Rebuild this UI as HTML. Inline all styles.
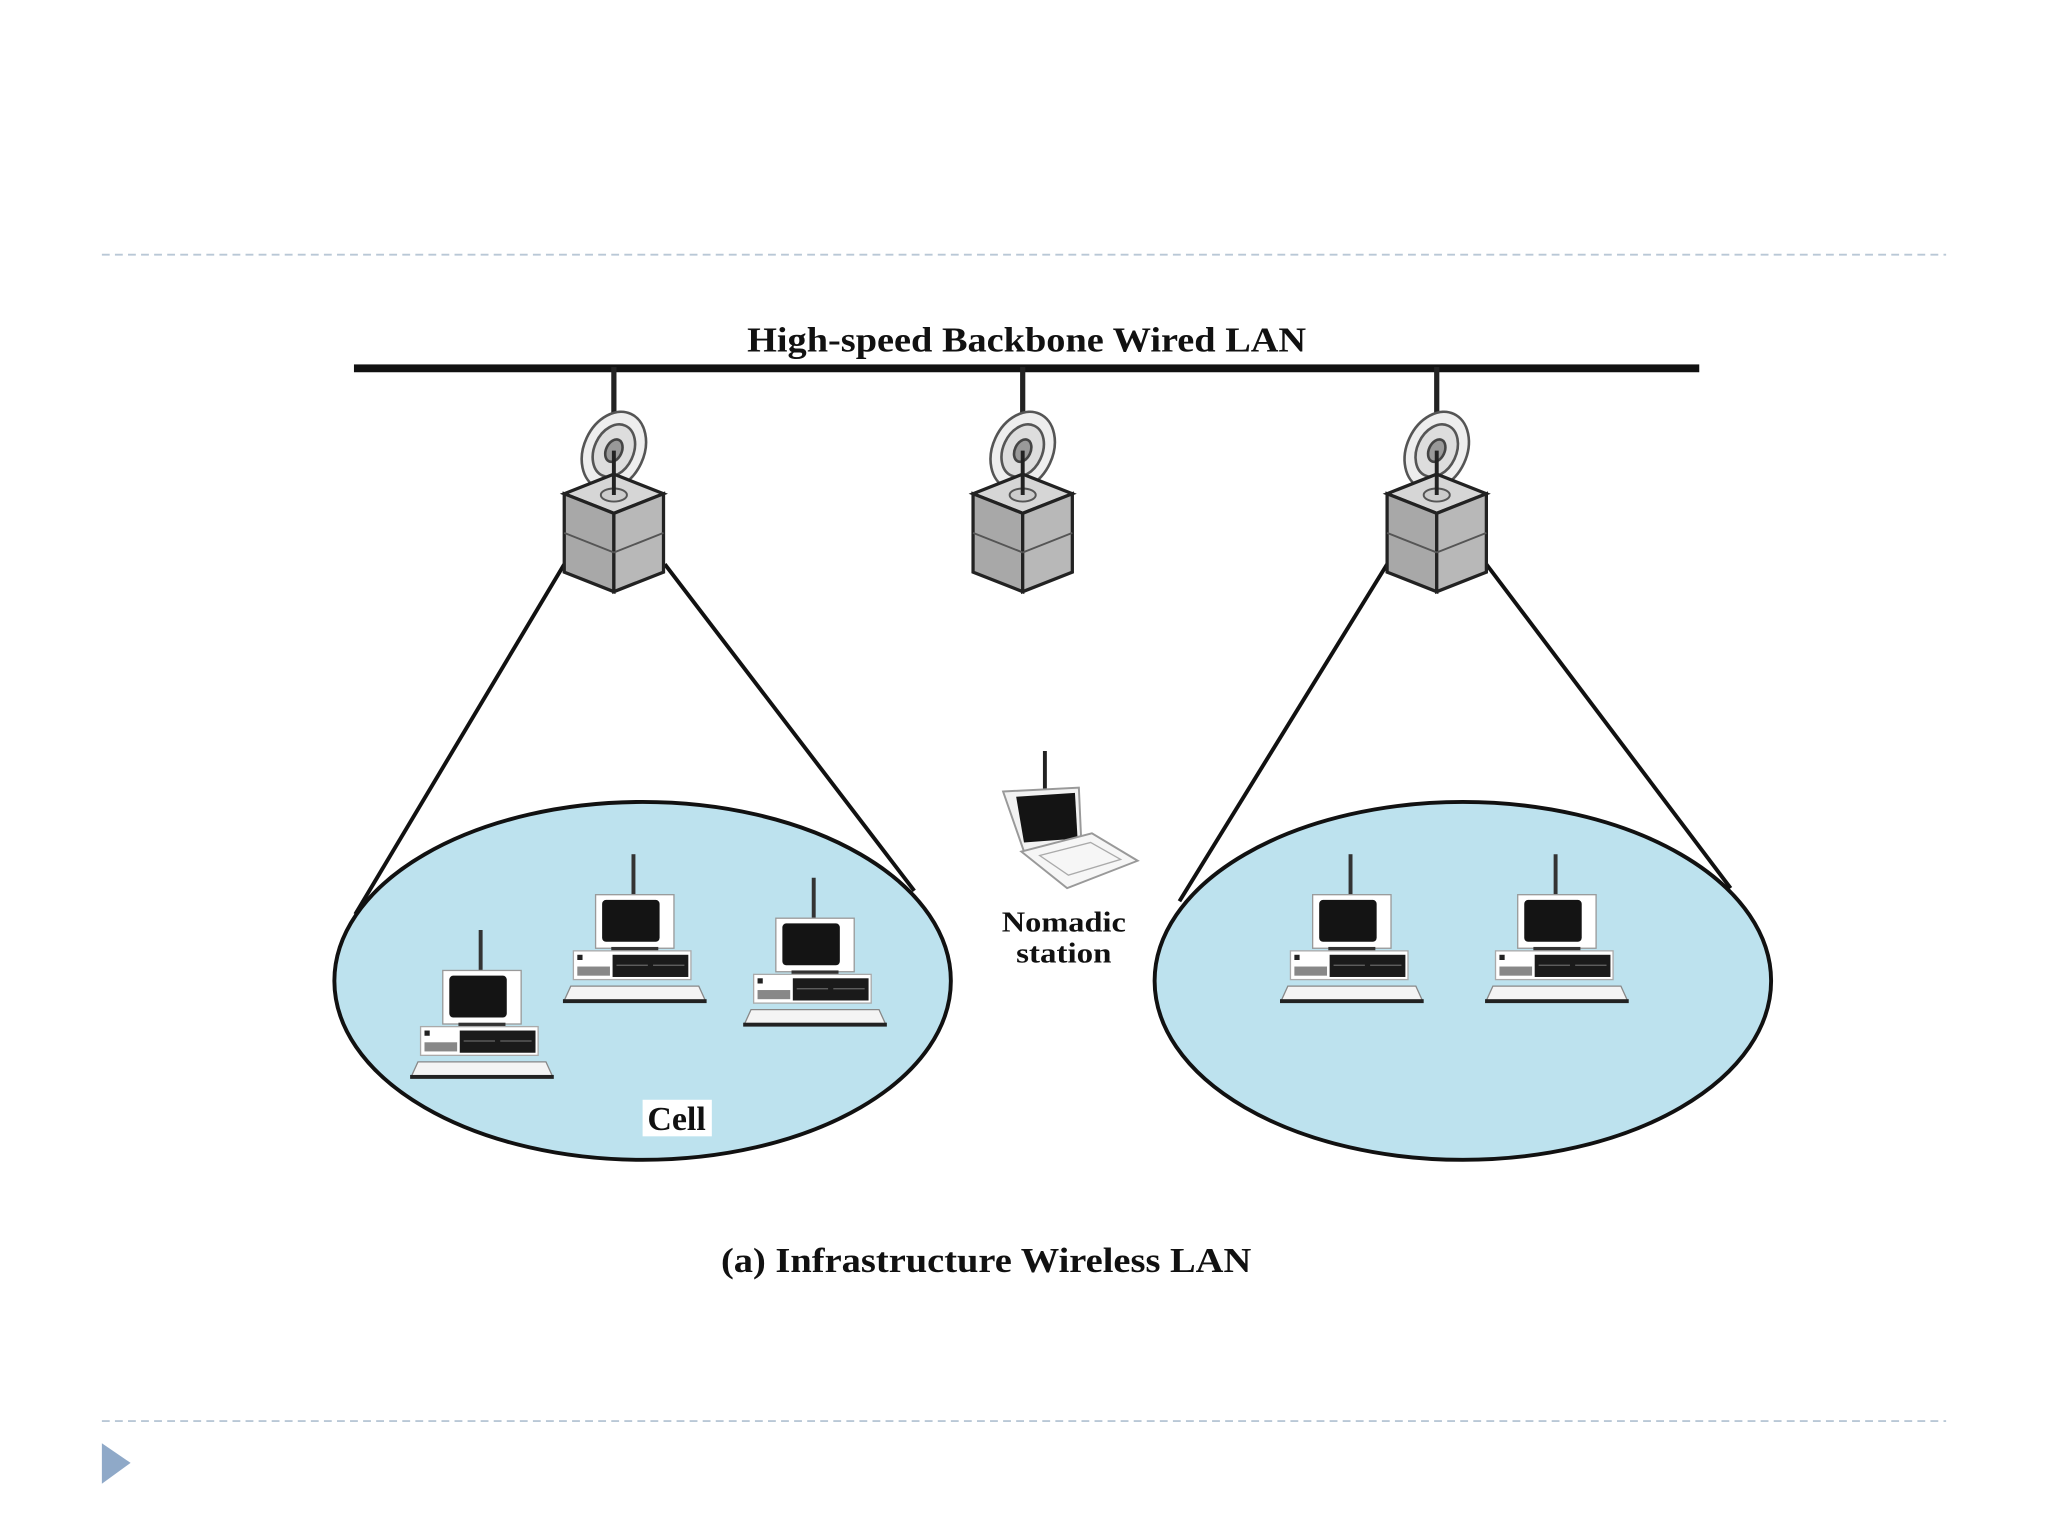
<!DOCTYPE html>
<html><head><meta charset="utf-8"><style>
html,body{margin:0;padding:0;background:#fff;}
svg{display:block;}
text{font-family:"Liberation Serif",serif;font-weight:bold;fill:#111;}
</style></head><body>
<svg width="2048" height="1536" viewBox="0 0 1568 1176" xmlns="http://www.w3.org/2000/svg">
<defs>
<g id="ap">
  <line x1="0" y1="-112" x2="0" y2="-72" stroke="#222" stroke-width="4"/>
  <ellipse cx="0" cy="-48" rx="23" ry="31" transform="rotate(25 0 -48)" fill="#eee" stroke="#555" stroke-width="2"/>
  <ellipse cx="0" cy="-48" rx="15" ry="21" transform="rotate(25 0 -48)" fill="#ddd" stroke="#555" stroke-width="2"/>
  <ellipse cx="0" cy="-48" rx="6" ry="9" transform="rotate(25 0 -48)" fill="#999" stroke="#444" stroke-width="2"/>
  <polygon points="-38,-15 0,-30 38,-15 0,0" fill="#d6d6d6" stroke="#222" stroke-width="2.5"/>
  <polygon points="-38,-15 0,0 0,60 -38,45" fill="#a8a8a8" stroke="#222" stroke-width="2.5"/>
  <polygon points="38,-15 0,0 0,60 38,45" fill="#b8b8b8" stroke="#222" stroke-width="2.5"/>
  <line x1="-38" y1="15" x2="0" y2="30" stroke="#555" stroke-width="1.5"/>
  <line x1="38" y1="15" x2="0" y2="30" stroke="#555" stroke-width="1.5"/>
  <ellipse cx="0" cy="-14" rx="10" ry="5" fill="#ccc" stroke="#555" stroke-width="1.5"/>
  <line x1="0" y1="-48" x2="0" y2="-14" stroke="#222" stroke-width="3"/>
</g>
<g id="pc">
  <line x1="-1" y1="0" x2="-1" y2="33" stroke="#333" stroke-width="3"/>
  <rect x="-30" y="31" width="60" height="41" fill="#fff" stroke="#999" stroke-width="1"/>
  <rect x="-25" y="35" width="44" height="32" rx="3" fill="#141414"/>
  <rect x="-18" y="71" width="36" height="4" fill="#333"/>
  <rect x="-47" y="74" width="90" height="22" fill="#fff" stroke="#aaa" stroke-width="1"/>
  <rect x="-17" y="77" width="58" height="17" fill="#1a1a1a"/>
  <rect x="-44" y="86" width="25" height="7" fill="#888"/>
  <rect x="-44" y="77" width="4" height="4" fill="#222"/>
  <line x1="-14" y1="85" x2="10" y2="85" stroke="#666"/>
  <line x1="14" y1="85" x2="38" y2="85" stroke="#666"/>
  <polygon points="-49,101 49,101 54,112 -54,112" fill="#f4f4f4" stroke="#888" stroke-width="1"/>
  <rect x="-55" y="111" width="110" height="3" fill="#222"/>
</g>
</defs>
<line x1="78" y1="195" x2="1490" y2="195" stroke="#b9c8d6" stroke-width="1.5" stroke-dasharray="6,4"/>
<line x1="78" y1="1088" x2="1490" y2="1088" stroke="#b9c8d6" stroke-width="1.5" stroke-dasharray="6,4"/>
<polygon points="78,1105 78,1136 100,1120" fill="#8fa9c8"/>

<text x="572" y="269" font-size="27" textLength="428" lengthAdjust="spacingAndGlyphs">High-speed Backbone Wired LAN</text>
<rect x="271" y="279" width="1030" height="6" fill="#111"/>

<ellipse cx="492" cy="751" rx="236" ry="137" fill="#bde2ee" stroke="#111" stroke-width="3"/>
<ellipse cx="1120" cy="751" rx="236" ry="137" fill="#bde2ee" stroke="#111" stroke-width="3"/>
<g stroke="#111" stroke-width="3">
<line x1="432" y1="432" x2="272" y2="700"/>
<line x1="509" y1="432" x2="700" y2="682"/>
<line x1="1062" y1="432" x2="903" y2="690"/>
<line x1="1138" y1="432" x2="1325" y2="680"/>
</g>
<use href="#ap" x="470" y="393"/>
<use href="#ap" x="783" y="393"/>
<use href="#ap" x="1100" y="393"/>

<use href="#pc" x="369" y="712"/>
<use href="#pc" x="486" y="654"/>
<use href="#pc" x="624" y="672"/>
<use href="#pc" x="1035" y="654"/>
<use href="#pc" x="1192" y="654"/>

<g>
  <line x1="800" y1="575" x2="800" y2="610" stroke="#222" stroke-width="3"/>
  <polygon points="768,606 826,603 828,648 784,652" fill="#f2f2f2" stroke="#999" stroke-width="1.5"/>
  <polygon points="778,610 823,607 825,642 784,645" fill="#141414"/>
  <polygon points="782,652 836,638 871,659 817,680" fill="#f6f6f6" stroke="#999" stroke-width="1.5"/>
  <polygon points="796,655 835,645 858,658 818,670" fill="none" stroke="#aaa" stroke-width="1"/>
</g>
<text x="767" y="713" font-size="22" textLength="95" lengthAdjust="spacingAndGlyphs">Nomadic</text>
<text x="778" y="737" font-size="22" textLength="73" lengthAdjust="spacingAndGlyphs">station</text>

<rect x="492" y="842" width="53" height="28" fill="#fff"/>
<text x="518" y="865" font-size="26" text-anchor="middle">Cell</text>

<text x="552" y="974" font-size="27" textLength="406" lengthAdjust="spacingAndGlyphs">(a) Infrastructure Wireless LAN</text>
</svg>
</body></html>
